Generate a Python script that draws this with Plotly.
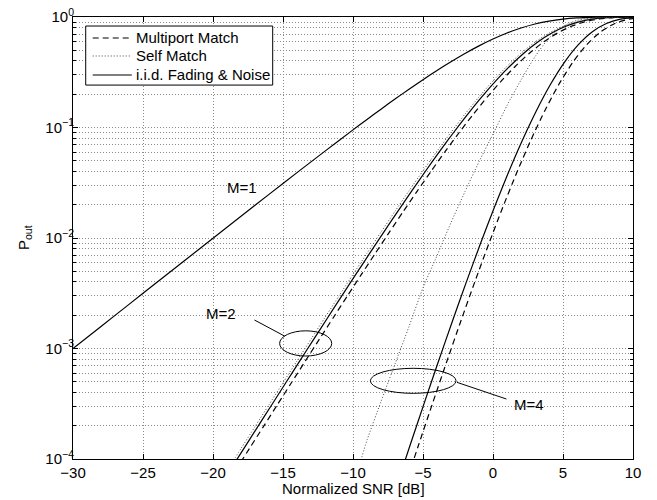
import plotly.graph_objects as go

# ---------------- data ----------------
# M = 1 (all matching networks coincide)
snr_m1 = [-30, -28, -26, -24, -22, -20, -18, -16, -14, -12, -10, -9, -8, -7, -6, -5,
          -4, -3, -2, -1, 0, 1, 2, 3, 4, 5, 6, 7, 8, 9, 10]
pout_m1 = [0.0009995, 0.0015836, 0.0025087, 0.0039732, 0.0062897, 0.0099502, 0.015724,
           0.024806, 0.039029, 0.061147, 0.095163, 0.118291, 0.146567, 0.180881, 0.222124,
           0.271107, 0.328410, 0.394188, 0.467918, 0.548115, 0.632121, 0.716041, 0.795030,
           0.864022, 0.918885, 0.957671, 0.981334, 0.993342, 0.998181, 0.999645, 0.999955]

# M = 2
snr_m2_iid = [-18.8, -17.8, -16.8, -15.8, -14.8, -13.8, -12.8, -11.8, -10.8, -9.8, -8.8,
              -7.8, -6.8, -5.8, -4.8, -3.8, -2.8, -1.8, -0.8, 0.2, 1.2, 2.2, 3.2, 4.2,
              5.2, 6.2, 7.2, 8.2, 9.2, 10.2]
snr_m2_multiport = [-18.4, -17.4, -16.4, -15.4, -14.4, -13.4, -12.4, -11.4, -10.4, -9.4,
                    -8.4, -7.4, -6.4, -5.4, -4.4, -3.4, -2.4, -1.4, -0.4, 0.6, 1.6, 2.6,
                    3.6, 4.6, 5.6, 6.6, 7.6, 8.6, 9.6, 10.6]
snr_m2_self = [-19.0, -18.0, -17.0, -16.0, -15.0, -14.0, -13.0, -12.0, -11.0, -10.0, -9.0,
               -8.0, -7.0, -6.0, -5.0, -4.0, -3.0, -2.0, -1.0, 0.0, 1.0, 2.0, 3.0, 4.0,
               5.0, 6.0, 7.0, 8.0, 9.0, 10.0]
pout_m2 = [7.86e-5, 1.243e-4, 1.964e-4, 3.10e-4, 4.896e-4, 7.72e-4, 1.2148e-3, 1.909e-3,
           2.9926e-3, 4.679e-3, 7.29e-3, 0.011306, 0.017445, 0.02673, 0.04061, 0.06104,
           0.09056, 0.13220, 0.18917, 0.26424, 0.35856, 0.47017, 0.59271, 0.71513,
           0.82381, 0.90702, 0.95997, 0.98671, 0.99682, 0.99950]

# M = 4
snr_m4_iid = [-6.9, -5.9, -4.9, -3.9, -2.9, -1.9, -0.9, 0.1, 1.1, 2.1, 3.1, 4.1, 5.1, 6.1,
              7.1, 8.1, 9.1, 10.1]
snr_m4_multiport = [-6.3, -5.3, -4.3, -3.3, -2.3, -1.3, -0.3, 0.7, 1.7, 2.7, 3.7, 4.7,
                    5.7, 6.7, 7.7, 8.7, 9.7, 10.7]
pout_m4 = [5.63e-5, 1.358e-4, 3.240e-4, 7.628e-4, 1.7666e-3, 4.009e-3, 8.863e-3, 0.018988,
           0.03911, 0.07673, 0.14202, 0.24497, 0.38908, 0.56281, 0.73664, 0.87436,
           0.95597, 0.98966]
snr_m4_self = [-9.5, -9, -8, -7, -6, -5, -4, -3, -2, -1, 0, 1, 2, 3, 4, 5, 6, 7, 8, 9, 10]
pout_m4_self = [9.2e-5, 1.48e-4, 3.31e-4, 7.24e-4, 1.58e-3, 3.55e-3, 6.92e-3, 0.0138,
                0.0263, 0.0490, 0.0871, 0.158, 0.269, 0.437, 0.646, 0.822, 0.933, 0.977,
                0.994, 0.999, 0.9998]

x_ticks = [-30, -25, -20, -15, -10, -5, 0, 5, 10]
x_ticktext = ["\u221230", "\u221225", "\u221220", "\u221215", "\u221210", "\u22125", "0", "5", "10"]
y_ticks = [1e-4, 1e-3, 1e-2, 1e-1, 1]
y_ticktext = ["10<sup>\u22124</sup>", "10<sup>\u22123</sup>", "10<sup>\u22122</sup>",
              "10<sup>\u22121</sup>", "10<sup>0</sup>"]
legend_labels = ["Multiport Match", "Self Match", "i.i.d. Fading & Noise"]

FONT = "Liberation Sans, Arial, Helvetica, sans-serif"
FS = 15
DASH = "6px,4px"
DOT = "1px,2px"
DOT_COLOR = "#444"

fig = go.Figure()


def add(x, y, dash, name, color="black", width=1.2):
    fig.add_trace(go.Scatter(
        x=x, y=y, mode="lines", name=name, showlegend=False, hoverinfo="skip",
        line=dict(color=color, width=width, dash=dash, shape="spline", smoothing=0.6)))


add(snr_m1, pout_m1, "solid", "M=1")
add(snr_m2_iid, pout_m2, "solid", "M=2 i.i.d.")
add(snr_m2_multiport, pout_m2, DASH, "M=2 Multiport Match")
add(snr_m2_self, pout_m2, DOT, "M=2 Self Match", color=DOT_COLOR, width=1)
add(snr_m4_iid, pout_m4, "solid", "M=4 i.i.d.")
add(snr_m4_multiport, pout_m4, DASH, "M=4 Multiport Match")
add(snr_m4_self, pout_m4_self, DOT, "M=4 Self Match", color=DOT_COLOR, width=1)

# ---------------- legend box, ellipses, leader lines ----------------
shapes = [
    # legend box
    dict(type="rect", xref="paper", yref="paper", x0=0.0227, x1=0.3566, y0=0.846, y1=0.9796,
         line=dict(color="black", width=1), fillcolor="white", layer="above"),
    dict(type="line", xref="paper", yref="paper", x0=0.0352, x1=0.1032, y0=0.9525, y1=0.9525,
         line=dict(color="black", width=1.2, dash=DASH), layer="above"),
    dict(type="line", xref="paper", yref="paper", x0=0.0352, x1=0.1032, y0=0.9118, y1=0.9118,
         line=dict(color=DOT_COLOR, width=1, dash=DOT), layer="above"),
    dict(type="line", xref="paper", yref="paper", x0=0.0352, x1=0.1050, y0=0.8688, y1=0.8688,
         line=dict(color="black", width=1.2), layer="above"),
    # M=2 ellipse + leader
    dict(type="circle", xref="paper", yref="paper", x0=0.369, x1=0.462, y0=0.233, y1=0.290,
         line=dict(color="black", width=1)),
    dict(type="line", xref="paper", yref="paper", x0=0.324, y0=0.3145, x1=0.378, y1=0.278,
         line=dict(color="black", width=1)),
    # M=4 ellipse + leader
    dict(type="circle", xref="paper", yref="paper", x0=0.531, x1=0.684, y0=0.1486, y1=0.2052,
         line=dict(color="black", width=1)),
    dict(type="line", xref="paper", yref="paper", x0=0.6855, y0=0.1735, x1=0.774, y1=0.1357,
         line=dict(color="black", width=1)),
]

txt = dict(color="black", family=FONT, size=FS)


def note(text, x, y, **kw):
    d = dict(text=text, x=x, y=y, xref="paper", yref="paper", showarrow=False,
             xanchor="center", yanchor="middle", font=txt)
    d.update(kw)
    return d


annotations = [
    note("M=1", 0.301, 0.615),
    note("M=2", 0.265, 0.330),
    note("M=4", 0.815, 0.1244),
    note("Normalized SNR [dB]", 0.5, 0.0, yshift=-29),
    note("P<sub>out</sub>", 0.0, 0.5, xshift=-49, textangle=-90),
]
for lab, yy in zip(legend_labels, [0.9525, 0.9118, 0.8688]):
    annotations.append(note(lab, 0.1084, yy, xanchor="left"))

fig.update_layout(
    width=657, height=500,
    margin=dict(l=73, r=24, t=17, b=41, autoexpand=False),
    paper_bgcolor="white", plot_bgcolor="white",
    font=dict(family=FONT, size=FS, color="black"),
    shapes=shapes, annotations=annotations,
    showlegend=False,
)

fig.update_xaxes(
    range=[-30, 10], tickvals=x_ticks, ticktext=x_ticktext, automargin=False,
    ticks="inside", ticklen=5, tickcolor="black", tickwidth=1,
    showline=True, linecolor="black", linewidth=1, mirror="ticks",
    showgrid=True, gridcolor="#8a8a8a", griddash=DOT, gridwidth=1,
    zeroline=False, tickfont=txt,
)

fig.update_yaxes(
    type="log", range=[-4, 0], tickvals=y_ticks, ticktext=y_ticktext, automargin=False,
    ticks="inside", ticklen=5, tickcolor="black", tickwidth=1, ticklabelstandoff=-5,
    ticklabeloverflow="allow",
    showline=True, linecolor="black", linewidth=1, mirror="ticks",
    showgrid=True, gridcolor="#8a8a8a", griddash=DOT, gridwidth=1,
    minor=dict(dtick="D1", ticks="inside", ticklen=3, tickcolor="black",
               showgrid=True, gridcolor="#8a8a8a", griddash=DOT, gridwidth=1),
    zeroline=False, tickfont=txt,
)

# remove the page's default 8px body margin so the 657x500 figure fills the window
fig.write_html("out.html", config={"displayModeBar": False},
               post_script="document.body.style.margin='0px';")
